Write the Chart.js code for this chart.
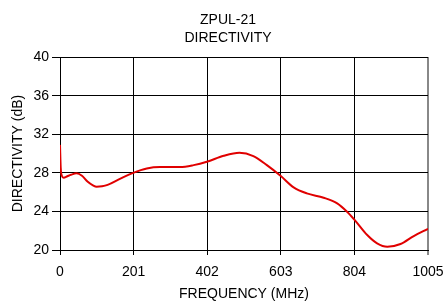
<!DOCTYPE html>
<html>
<head>
<meta charset="utf-8">
<script src="https://cdn.jsdelivr.net/npm/chart.js@4/dist/chart.umd.min.js"></script>
<style>
html,body{margin:0;padding:0;background:#fff;}
canvas{display:block;}
</style>
</head>
<body>
<canvas id="c" width="446" height="303"></canvas>
<script>
const titleLines = ['ZPUL-21', 'DIRECTIVITY'];
const xTitle = 'FREQUENCY (MHz)';
const yTitle = 'DIRECTIVITY (dB)';
const xTicks = [0, 201, 402, 603, 804, 1005];
const yTicks = [20, 24, 28, 32, 36, 40];
const freqMHz = [0, 2, 5, 10, 20, 30, 45, 60, 75, 90, 100, 115, 130, 165, 200, 237, 273, 328, 365, 401, 447, 490, 528, 565, 603, 638, 674, 720, 757, 784, 805, 839, 866, 894, 930, 966, 1005];
const directivity = [30.9, 28.5, 27.7, 27.5, 27.65, 27.8, 27.95, 27.7, 27.1, 26.7, 26.55, 26.6, 26.75, 27.4, 28.0, 28.45, 28.6, 28.6, 28.8, 29.15, 29.77, 30.08, 29.74, 28.8, 27.67, 26.5, 25.87, 25.42, 24.84, 23.97, 23.1, 21.55, 20.69, 20.34, 20.62, 21.45, 22.2];

const FONT = 'Liberation Sans, Arial, sans-serif';
const points = freqMHz.map((f, i) => ({x: f, y: directivity[i]}));

new Chart(document.getElementById('c'), {
  type: 'line',
  data: {
    datasets: [{
      data: points,
      borderColor: '#e00000',
      borderWidth: 2,
      pointRadius: 0,
      tension: 0.4,
      cubicInterpolationMode: 'monotone',
      fill: false
    }]
  },
  options: {
    responsive: false,
    animation: false,
    devicePixelRatio: 1,
    layout: {padding: {left: 10, right: 0, top: 0, bottom: 0}},
    plugins: {
      legend: {display: false},
      tooltip: {enabled: false},
      title: {
        display: true,
        text: titleLines,
        color: '#000',
        font: {family: FONT, size: 14, weight: 'normal', lineHeight: 1.29},
        padding: {top: 11, bottom: 10}
      }
    },
    scales: {
      x: {
        type: 'linear',
        min: 0,
        max: 1005,
        afterBuildTicks: (s) => { s.ticks = xTicks.map(v => ({value: v})); },
        afterFit: (s) => { s.height = 53; s.paddingRight = 18; s.paddingLeft = 0; },
        grid: {
          color: (ctx) => ctx.index === xTicks.length - 1 ? '#888' : '#000',
          lineWidth: (ctx) => ctx.index === xTicks.length - 1 ? 2 : 1,
          tickLength: 5,
          drawTicks: true
        },
        border: {color: '#000', width: 1},
        ticks: {
          color: '#000',
          font: {family: FONT, size: 14},
          padding: 9,
          maxRotation: 0,
          autoSkip: false,
          callback: (v) => String(v)
        },
        title: {
          display: true,
          text: xTitle,
          color: '#000',
          font: {family: FONT, size: 14},
          padding: {top: 0, bottom: 0}
        }
      },
      y: {
        type: 'linear',
        min: 20,
        max: 40,
        afterBuildTicks: (s) => { s.ticks = yTicks.map(v => ({value: v})); },
        afterFit: (s) => { s.width = 50; },
        grid: {
          color: '#000',
          lineWidth: 1,
          tickLength: 8,
          drawTicks: true
        },
        border: {color: '#000', width: 1},
        ticks: {
          color: '#000',
          font: {family: FONT, size: 14},
          padding: 3,
          callback: (v) => String(v)
        },
        title: {
          display: true,
          text: yTitle,
          color: '#000',
          font: {family: FONT, size: 14},
          padding: {top: 0, bottom: 0}
        }
      }
    }
  }
});
</script>
</body>
</html>
